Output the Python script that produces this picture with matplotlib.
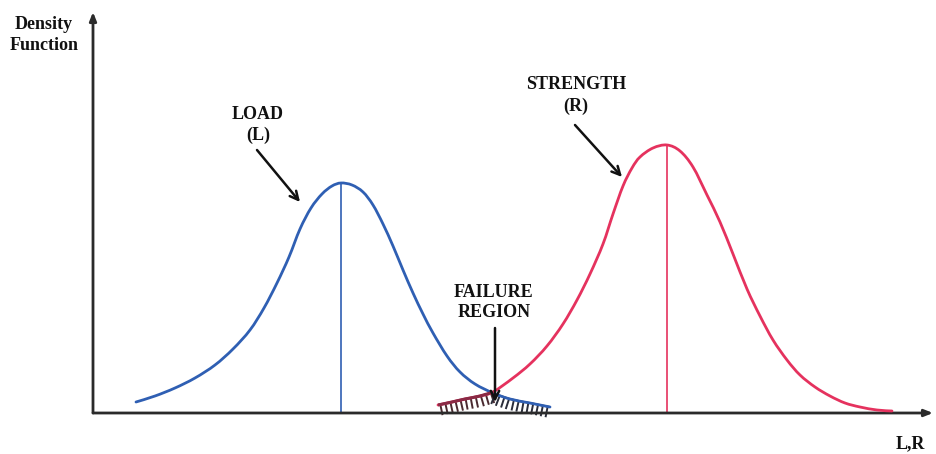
import numpy as np
import matplotlib
matplotlib.use("Agg")
import matplotlib.pyplot as plt
import matplotlib.patheffects as pe
from matplotlib.path import Path
from matplotlib.patches import PathPatch

# load (L) density curve
load_x = np.array([4.3, 6.2, 8.2, 10.2, 12.2, 14.0, 15.7, 17.1, 18.4, 19.6, 20.7,
                   21.8, 22.9, 23.9, 24.8, 25.9, 27.0, 28.0, 29.0, 30.0, 31.0,
                   32.0, 33.0, 34.0, 35.4, 36.7, 38.2, 40.0, 41.7, 43.7, 45.7])
load_y = np.array([0.11, 0.17, 0.25, 0.35, 0.48, 0.64, 0.83, 1.05, 1.30, 1.56, 1.84,
                   2.05, 2.19, 2.27, 2.30, 2.28, 2.21, 2.08, 1.89, 1.67, 1.43,
                   1.20, 0.99, 0.80, 0.57, 0.41, 0.29, 0.20, 0.14, 0.10, 0.06])

# strength (R) density curve
strength_x = np.array([34.5, 35.9, 37.2, 38.7, 40.0, 42.0, 43.7, 45.4, 47.0, 48.4,
                       49.7, 51.0, 52.0, 53.0, 53.9, 54.7, 56.0, 57.4, 58.7, 60.0,
                       61.4, 62.7, 64.0, 65.4, 66.7, 68.0, 69.4, 70.7, 72.2, 73.7,
                       75.2, 76.7, 78.4, 79.9])
strength_y = np.array([0.08, 0.11, 0.14, 0.17, 0.21, 0.35, 0.49, 0.67, 0.89, 1.13,
                       1.39, 1.69, 1.99, 2.27, 2.45, 2.56, 2.65, 2.68, 2.62, 2.46,
                       2.18, 1.91, 1.59, 1.24, 0.97, 0.73, 0.53, 0.38, 0.26, 0.17,
                       0.10, 0.06, 0.03, 0.02])

crossing_x = 40.0  # where the two curves meet

BLUE = "#2f5fb3"
RED = "#e5325e"
DARK = "#2b2b2b"
FONT = ["Liberation Serif", "DejaVu Serif"]


def smooth_path(x, y):
    """Catmull-Rom through the read points, as cubic bezier segments."""
    p = np.column_stack([x, y])
    pts = np.vstack([p[0], p, p[-1]])
    verts = [p[0]]
    codes = [Path.MOVETO]
    for i in range(1, len(pts) - 2):
        p0, p1, p2, p3 = pts[i - 1], pts[i], pts[i + 1], pts[i + 2]
        verts += [p1 + (p2 - p0) / 6, p2 - (p3 - p1) / 6, p2]
        codes += [Path.CURVE4] * 3
    return Path(verts, codes)


def draw_curve(ax, x, y, **kw):
    patch = PathPatch(smooth_path(x, y), fill=False, **kw)
    ax.add_patch(patch)
    return patch


fig = plt.figure(figsize=(9.36, 4.54), dpi=100)
ax = fig.add_axes([0, 0, 1, 1])
ax.set_xlim(-9.3, 84.3)
ax.set_ylim(-0.41, 4.13)
ax.axis("off")

# axes drawn as arrows
ax.annotate("", xy=(84.0, 0), xytext=(0, 0),
            arrowprops=dict(arrowstyle="-|>,head_length=0.5,head_width=0.2",
                            color=DARK, lw=2.0, shrinkA=0, shrinkB=0))
ax.annotate("", xy=(0, 4.01), xytext=(0, 0),
            arrowprops=dict(arrowstyle="-|>,head_length=0.5,head_width=0.2",
                            color=DARK, lw=2.0, shrinkA=0, shrinkB=0))

# density curves
draw_curve(ax, load_x, load_y, edgecolor=BLUE, lw=2.0, capstyle="round", zorder=3)
draw_curve(ax, strength_x, strength_y, edgecolor=RED, lw=2.0, capstyle="round", zorder=3)

# mean lines
i_l = np.argmax(load_y)
i_s = np.argmax(strength_y)
ax.vlines(load_x[i_l], 0, load_y[i_l], color=BLUE, lw=1.2, zorder=2)
ax.vlines(strength_x[i_s], 0, strength_y[i_s], color=RED, lw=1.2, zorder=2)

# failure region hatch (red tail up to crossing, blue tail after)
tick = [pe.withTickedStroke(angle=-90, spacing=3.4, length=2.3)]
m_r = strength_x <= crossing_x
m_b = load_x >= crossing_x
draw_curve(ax, strength_x[m_r], strength_y[m_r], edgecolor="#4a2a30", lw=1.4,
           path_effects=tick, zorder=2)
draw_curve(ax, load_x[m_b], load_y[m_b], edgecolor="#2a2d3a", lw=1.4,
           path_effects=tick, zorder=2)
draw_curve(ax, strength_x[m_r], strength_y[m_r], edgecolor="#8a2a45", lw=2.2, zorder=3)

txt = dict(fontfamily=FONT, fontweight="bold", fontsize=13, ha="center",
           va="center", linespacing=1.3, color="#111111")
ax.text(-4.9, 3.78, "Density\nFunction", **txt)
ax.text(16.5, 2.88, "LOAD\n(L)", **txt)
ax.text(48.3, 3.175, "STRENGTH\n(R)", **txt)
ax.text(40.1, 1.105, "FAILURE\nREGION", **txt)
ax.text(81.7, -0.31, "L,R", **txt)

arrow = dict(arrowstyle="->,head_length=0.6,head_width=0.3", color="#111111",
             lw=1.8, shrinkA=0, shrinkB=0)
ax.annotate("", xy=(20.7, 2.11), xytext=(16.4, 2.63), arrowprops=arrow)
ax.annotate("", xy=(52.9, 2.36), xytext=(48.2, 2.88), arrowprops=arrow)
ax.annotate("", xy=(40.2, 0.11), xytext=(40.2, 0.85), arrowprops=arrow)

fig.savefig("out.png", dpi=100)
